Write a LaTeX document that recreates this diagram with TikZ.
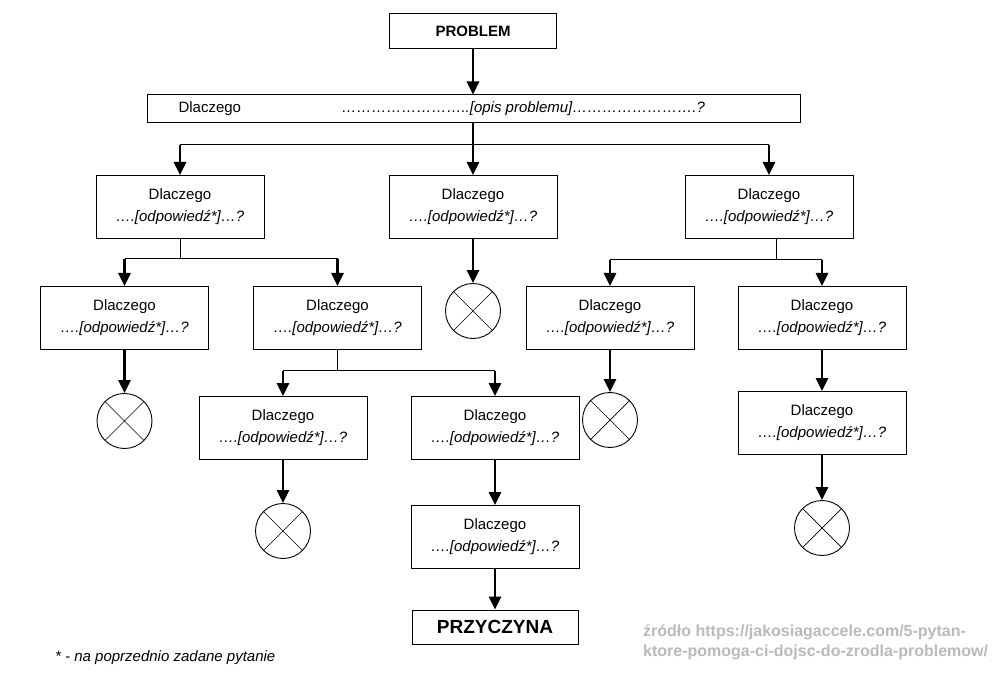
\documentclass[tikz,border=0pt]{standalone}
\usepackage{fontspec}
\setmainfont{Liberation Sans}
\usetikzlibrary{arrows.meta}

\begin{document}
\begin{tikzpicture}[x=1pt,y=-1pt,
    why/.style={draw, line width=1pt, minimum width=168pt, minimum height=63pt,
      inner sep=0pt, align=center, font=\fontsize{15}{22}\selectfont},
    endbox/.style={draw, line width=1pt, inner sep=0pt, font=\bfseries},
    stop/.style={draw, circle, line width=0.9pt, minimum size=55pt, inner sep=0pt,
      path picture={\draw[line width=0.7pt]
        (path picture bounding box.north west) -- (path picture bounding box.south east)
        (path picture bounding box.north east) -- (path picture bounding box.south west);}},
    drop/.style={line width=2.6pt, -{Triangle[width=12pt,length=13pt]}},
    bar/.style={line width=1pt}]
  \path[fill=white,use as bounding box] (0,0) rectangle (997,695);

  % problem and the first question
  \node[endbox, minimum width=167pt, minimum height=35pt,
    font=\bfseries\fontsize{15}{18}\selectfont] (problem) at (473,31) {PROBLEM};
  \node[draw, line width=1pt, minimum width=653pt, minimum height=28pt,
    inner sep=0pt] (opis) at (473.5,109) {};
  \node[anchor=west, font=\fontsize{15}{18}\selectfont] (opisl) at (175,109) {Dlaczego};
  \node[anchor=west, font=\fontsize{15}{18}\selectfont\itshape] (opisr) at (338,109)
    {……………………..[opis problemu]…………………….?};

  % the questions
  \node[why] (q1) at (180,207) {Dlaczego\\\textit{….[odpowiedź*]…?}};
  \node[why] (q2) at (473,207) {Dlaczego\\\textit{….[odpowiedź*]…?}};
  \node[why] (q3) at (769,207) {Dlaczego\\\textit{….[odpowiedź*]…?}};
  \node[why] (q11) at (124.5,318) {Dlaczego\\\textit{….[odpowiedź*]…?}};
  \node[why] (q12) at (337.5,318) {Dlaczego\\\textit{….[odpowiedź*]…?}};
  \node[why] (q31) at (610,318) {Dlaczego\\\textit{….[odpowiedź*]…?}};
  \node[why] (q32) at (822,318) {Dlaczego\\\textit{….[odpowiedź*]…?}};
  \node[why] (q121) at (283,428) {Dlaczego\\\textit{….[odpowiedź*]…?}};
  \node[why] (q122) at (495,428) {Dlaczego\\\textit{….[odpowiedź*]…?}};
  \node[why] (q321) at (822,423) {Dlaczego\\\textit{….[odpowiedź*]…?}};
  \node[why] (q1221) at (495,537) {Dlaczego\\\textit{….[odpowiedź*]…?}};
  \node[endbox, minimum width=166pt, minimum height=34pt,
    font=\bfseries\fontsize{19}{22}\selectfont] (cause) at (495,627) {PRZYCZYNA};

  % dead ends
  \node[stop] (x2) at (473,311) {};
  \node[stop] (x11) at (124.5,421) {};
  \node[stop] (x31) at (610,420) {};
  \node[stop] (x121) at (283,531) {};
  \node[stop] (x321) at (822,528) {};

  % branch points
  \coordinate (bar0) at (473,145);
  \coordinate (bar1) at (180,259);
  \coordinate (bar3) at (776,260);
  \coordinate (bar12) at (337.5,371);

  \draw[drop] (problem.south) -- (problem.south |- opis.north);
  \draw[bar] (q1 |- bar0) -- (q3 |- bar0);
  \draw[drop] (q2 |- opis.south) -- (q2.north);
  \draw[drop] (q1 |- bar0) -- (q1.north);
  \draw[drop] (q3 |- bar0) -- (q3.north);

  \draw[bar] (q1.south) -- (bar1);
  \draw[bar] (q11 |- bar1) -- (q12 |- bar1);
  \draw[drop] (q11 |- bar1) -- (q11.north);
  \draw[drop] (q12 |- bar1) -- (q12.north);

  \draw[bar] (bar3 |- q3.south) -- (bar3);
  \draw[bar] (q31 |- bar3) -- (q32 |- bar3);
  \draw[drop] (q31 |- bar3) -- (q31.north);
  \draw[drop] (q32 |- bar3) -- (q32.north);

  \draw[bar] (q12.south) -- (bar12);
  \draw[bar] (q121 |- bar12) -- (q122 |- bar12);
  \draw[drop] (q121 |- bar12) -- (q121.north);
  \draw[drop] (q122 |- bar12) -- (q122.north);

  \draw[drop] (q2.south) -- (x2.north);
  \draw[drop] (q11.south) -- (x11.north);
  \draw[drop] (q31.south) -- (x31.north);
  \draw[drop] (q32.south) -- (q321.north);
  \draw[drop] (q121.south) -- (x121.north);
  \draw[drop] (q122.south) -- (q1221.north);
  \draw[drop] (q321.south) -- (x321.north);
  \draw[drop] (q1221.south) -- (cause.north);

  % notes
  \node[anchor=west, inner sep=0pt, font=\fontsize{15}{18}\selectfont\itshape] (note) at (55,658)
    {* - na poprzednio zadane pytanie};
  \node[anchor=north west, inner sep=0pt, align=left, text=black!27,
    font=\bfseries\fontsize{16}{20}\selectfont] (source) at (643,625)
    {źródło https://jakosiagaccele.com/5-pytan-\\ktore-pomoga-ci-dojsc-do-zrodla-problemow/};
\end{tikzpicture}
\end{document}
